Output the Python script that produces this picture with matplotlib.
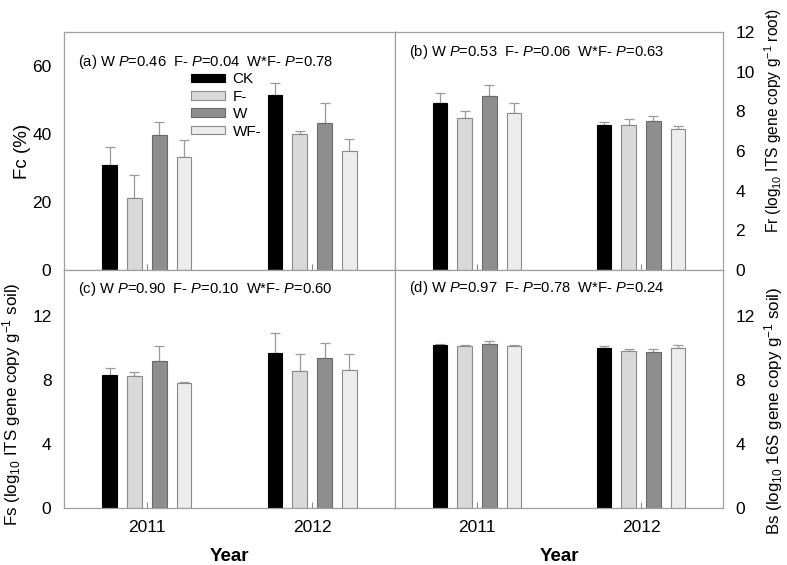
import numpy as np
import matplotlib
matplotlib.use("Agg")
import matplotlib.pyplot as plt

plt.rcParams['font.family'] = ['Liberation Sans', 'DejaVu Sans']
plt.rcParams['mathtext.fontset'] = 'custom'
plt.rcParams['mathtext.rm'] = 'Liberation Sans'
plt.rcParams['mathtext.it'] = 'Liberation Sans:italic'

years = ['2011', '2012']
treatments = ['CK', 'F-', 'W', 'WF-']
colors = ['#000000', '#d9d9d9', '#8e8e8e', '#ededed']
edges = ['#000000', '#8a8a8a', '#6a6a6a', '#8a8a8a']

# mean values per treatment, [2011, 2012]
fc_mean = {'CK': [30.8, 51.5], 'F-': [21.1, 40.1], 'W': [39.7, 43.3], 'WF-': [33.2, 35.1]}
fc_top = {'CK': [36.2, 55.1], 'F-': [28.0, 41.0], 'W': [43.5, 49.2], 'WF-': [38.1, 38.5]}

fr_mean = {'CK': [8.42, 7.29], 'F-': [7.66, 7.32], 'W': [8.75, 7.51], 'WF-': [7.93, 7.10]}
fr_top = {'CK': [8.93, 7.46], 'F-': [8.00, 7.59], 'W': [9.32, 7.76], 'WF-': [8.42, 7.25]}

fs_mean = {'CK': [8.32, 9.68], 'F-': [8.25, 8.59], 'W': [9.22, 9.39], 'WF-': [7.83, 8.65]}
fs_top = {'CK': [8.78, 10.95], 'F-': [8.53, 9.64], 'W': [10.17, 10.34], 'WF-': [7.87, 9.62]}

bs_mean = {'CK': [10.21, 10.00], 'F-': [10.17, 9.83], 'W': [10.27, 9.77], 'WF-': [10.15, 10.04]}
bs_top = {'CK': [10.25, 10.15], 'F-': [10.21, 9.94], 'W': [10.48, 9.96], 'WF-': [10.19, 10.23]}

W, H = 787, 565
fig = plt.figure(figsize=(W / 100, H / 100), dpi=100)

x_l, x_m, x_r = 64, 395, 723
y_t, y_m, y_b = 32, 270, 508


def make_ax(x0, x1, y0, y1):
    return fig.add_axes([x0 / W, 1 - y1 / H, (x1 - x0) / W, (y1 - y0) / H])


def draw_panel(ax, means, tops, ylim, yticks, text, text_y, right=False, xlabels=False):
    x = np.arange(1, len(years) + 1)
    offsets = [-0.225, -0.075, 0.075, 0.225]
    for i, t in enumerate(treatments):
        m = np.array(means[t])
        e = np.array(tops[t]) - m
        ax.bar(x + offsets[i], m, width=0.09, color=colors[i], edgecolor=edges[i],
               linewidth=0.8, label=t, zorder=2)
        ax.errorbar(x + offsets[i], m, yerr=[np.zeros_like(e), e], fmt='none',
                    ecolor='#9a9a9a', elinewidth=0.9, capsize=3.5, capthick=0.9, zorder=1)
    ax.set_xlim(0.5, 2.5)
    ax.set_ylim(*ylim)
    ax.set_yticks(yticks)
    ax.set_xticks(x)
    if xlabels:
        ax.set_xticklabels(years, fontsize=12.5)
    else:
        ax.set_xticklabels([])
    ax.tick_params(axis='x', direction='in', length=4, color='#888888', pad=9)
    ax.tick_params(axis='y', length=0, labelsize=12.5, pad=9)
    if right:
        ax.yaxis.tick_right()
        ax.yaxis.set_label_position('right')
    for s in ax.spines.values():
        s.set_color('#a0a0a0')
        s.set_linewidth(0.9)
    ax.text(0.042, text_y, text, transform=ax.transAxes, fontsize=10.6, va='center')


ax_a = make_ax(x_l, x_m, y_t, y_m)
draw_panel(ax_a, fc_mean, fc_top, (0, 70), [0, 20, 40, 60],
           r"(a) W $\it{P}$=0.46  F- $\it{P}$=0.04  W*F- $\it{P}$=0.78", 0.874)
ax_a.set_ylabel('Fc (%)', fontsize=13.5)
ax_a.yaxis.set_label_coords(-0.1, 0.5)
ax_a.legend(loc='upper left', bbox_to_anchor=(0.385, 0.83), frameon=False, fontsize=11,
            handlelength=2.2, handleheight=0.5, labelspacing=0.22, handletextpad=0.5,
            borderpad=0, borderaxespad=0)

ax_b = make_ax(x_m, x_r, y_t, y_m)
draw_panel(ax_b, fr_mean, fr_top, (0, 12), [0, 2, 4, 6, 8, 10, 12],
           r"(b) W $\it{P}$=0.53  F- $\it{P}$=0.06  W*F- $\it{P}$=0.63", 0.915, right=True)
ax_b.set_ylabel(r'Fr (log$_{10}$ ITS gene copy g$^{-1}$ root)', fontsize=11.2)
ax_b.yaxis.set_label_coords(1.12, 0.63)

ax_c = make_ax(x_l, x_m, y_m, y_b)
draw_panel(ax_c, fs_mean, fs_top, (0, 14.9), [0, 4, 8, 12],
           r"(c) W $\it{P}$=0.90  F- $\it{P}$=0.10  W*F- $\it{P}$=0.60", 0.92, xlabels=True)
ax_c.set_ylabel(r'Fs (log$_{10}$ ITS gene copy g$^{-1}$ soil)', fontsize=12.2)
ax_c.yaxis.set_label_coords(-0.125, 0.437)
ax_c.set_xlabel('Year', fontsize=13.5, fontweight='bold', labelpad=9)

ax_d = make_ax(x_m, x_r, y_m, y_b)
draw_panel(ax_d, bs_mean, bs_top, (0, 14.9), [0, 4, 8, 12],
           r"(d) W $\it{P}$=0.97  F- $\it{P}$=0.78  W*F- $\it{P}$=0.24", 0.925, right=True, xlabels=True)
ax_d.set_ylabel(r'Bs (log$_{10}$ 16S gene copy g$^{-1}$ soil)', fontsize=12.2)
ax_d.yaxis.set_label_coords(1.12, 0.408)
ax_d.set_xlabel('Year', fontsize=13.5, fontweight='bold', labelpad=9)

fig.savefig('out.png', dpi=100)
